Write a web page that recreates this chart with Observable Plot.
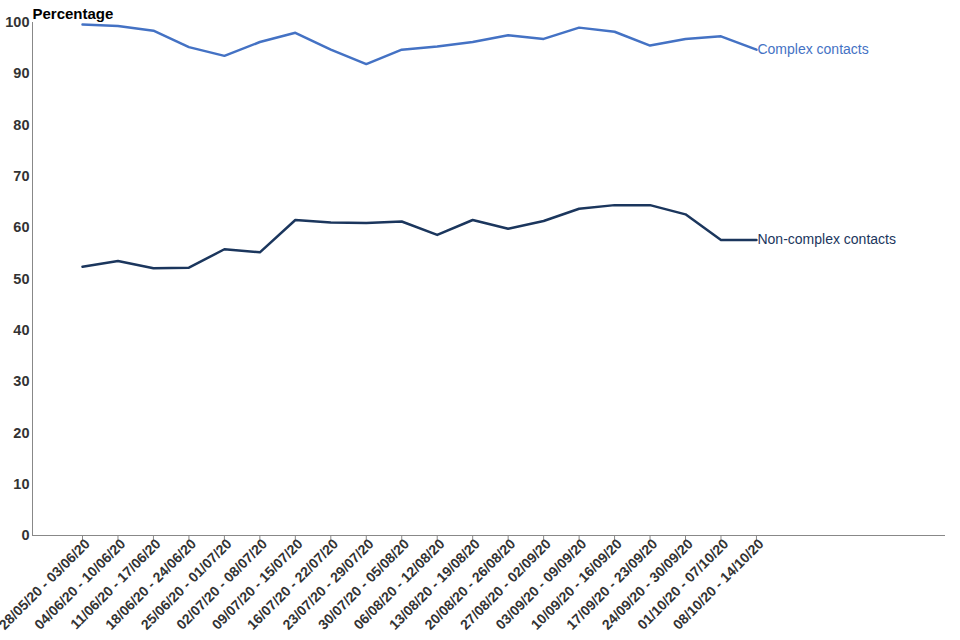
<!DOCTYPE html>
<html>
<head>
<meta charset="utf-8">
<script src="https://cdn.jsdelivr.net/npm/d3@7"></script>
<script src="https://cdn.jsdelivr.net/npm/@observablehq/plot@0.6"></script>
<style>
  html, body { margin: 0; padding: 0; background: #fff; }
  body { font-family: "Liberation Sans", Arial, sans-serif; }
</style>
</head>
<body>
<div id="chart"></div>
<script>
const weeks = [
  "28/05/20 - 03/06/20", "04/06/20 - 10/06/20", "11/06/20 - 17/06/20", "18/06/20 - 24/06/20",
  "25/06/20 - 01/07/20", "02/07/20 - 08/07/20", "09/07/20 - 15/07/20", "16/07/20 - 22/07/20",
  "23/07/20 - 29/07/20", "30/07/20 - 05/08/20", "06/08/20 - 12/08/20", "13/08/20 - 19/08/20",
  "20/08/20 - 26/08/20", "27/08/20 - 02/09/20", "03/09/20 - 09/09/20", "10/09/20 - 16/09/20",
  "17/09/20 - 23/09/20", "24/09/20 - 30/09/20", "01/10/20 - 07/10/20", "08/10/20 - 14/10/20"
];
const complexContacts = [99.6, 99.3, 98.4, 95.2, 93.5, 96.2, 98.0, 94.7, 91.9, 94.7,
                         95.3, 96.2, 97.5, 96.8, 99.0, 98.2, 95.5, 96.8, 97.3, 94.7];
const nonComplexContacts = [52.4, 53.5, 52.1, 52.2, 55.8, 55.2, 61.5, 61.0, 60.9, 61.2,
                            58.6, 61.5, 59.8, 61.3, 63.7, 64.4, 64.4, 62.6, 57.6, 57.6];
const seriesNames = ["Complex contacts", "Non-complex contacts"];
const yTicks = [0, 10, 20, 30, 40, 50, 60, 70, 80, 90, 100];
const yLabel = "Percentage";

const colors = {"Complex contacts": "#4472c4", "Non-complex contacts": "#1b365d"};

const rows = [];
weeks.forEach((w, i) => {
  rows.push({i, week: w, series: seriesNames[0], value: complexContacts[i]});
  rows.push({i, week: w, series: seriesNames[1], value: nonComplexContacts[i]});
});
const lastRows = rows.filter(d => d.i === weeks.length - 1);

const xDomain = [-1.41, 24.33];

const chart = Plot.plot({
  width: 960,
  height: 640,
  marginLeft: 32,
  marginRight: 15,
  marginTop: 22,
  marginBottom: 105,
  style: {fontFamily: "'Liberation Sans', Arial, sans-serif", background: "#fff", overflow: "visible"},
  x: {
    type: "linear",
    domain: xDomain,
    ticks: weeks.map((w, i) => i),
    tickFormat: i => weeks[i],
    tickRotate: -45,
    tickSize: 5,
    tickPadding: 3,
    label: null
  },
  y: {
    domain: [0, 100],
    ticks: yTicks,
    tickSize: 0,
    tickPadding: 3,
    label: null
  },
  marks: [
    Plot.ruleY([0], {stroke: "#888", strokeWidth: 1}),
    Plot.ruleX([xDomain[0]], {stroke: "#888", strokeWidth: 1}),
    Plot.line(rows, {x: "i", y: "value", z: "series", stroke: d => colors[d.series], strokeWidth: 2.5}),
    Plot.text(lastRows, {x: "i", y: "value", text: "series", fill: d => colors[d.series],
      textAnchor: "start", dx: 1, fontSize: 14}),
    Plot.text([yLabel], {frameAnchor: "top-left", text: d => d, textAnchor: "start", dy: -14, dx: 0,
      fontSize: 15, fontWeight: "bold", fill: "#000"})
  ]
});

const svg = d3.select(chart);
svg.selectAll("g[aria-label='x-axis tick label']").attr("transform", function() {
  const t = this.getAttribute("transform") || "";
  return t + " translate(5,-2)";
});
svg.selectAll("g[aria-label^='x-axis'] text")
  .style("font-weight", "bold").style("font-size", "14px").style("fill", "#333");
svg.selectAll("g[aria-label^='y-axis'] text")
  .style("font-weight", "bold").style("font-size", "14.5px").style("fill", "#333");
svg.selectAll("g[aria-label^='x-axis tick'] path, g[aria-label='x-axis tick'] line").style("stroke", "#888");

document.getElementById("chart").appendChild(chart);
</script>
</body>
</html>
